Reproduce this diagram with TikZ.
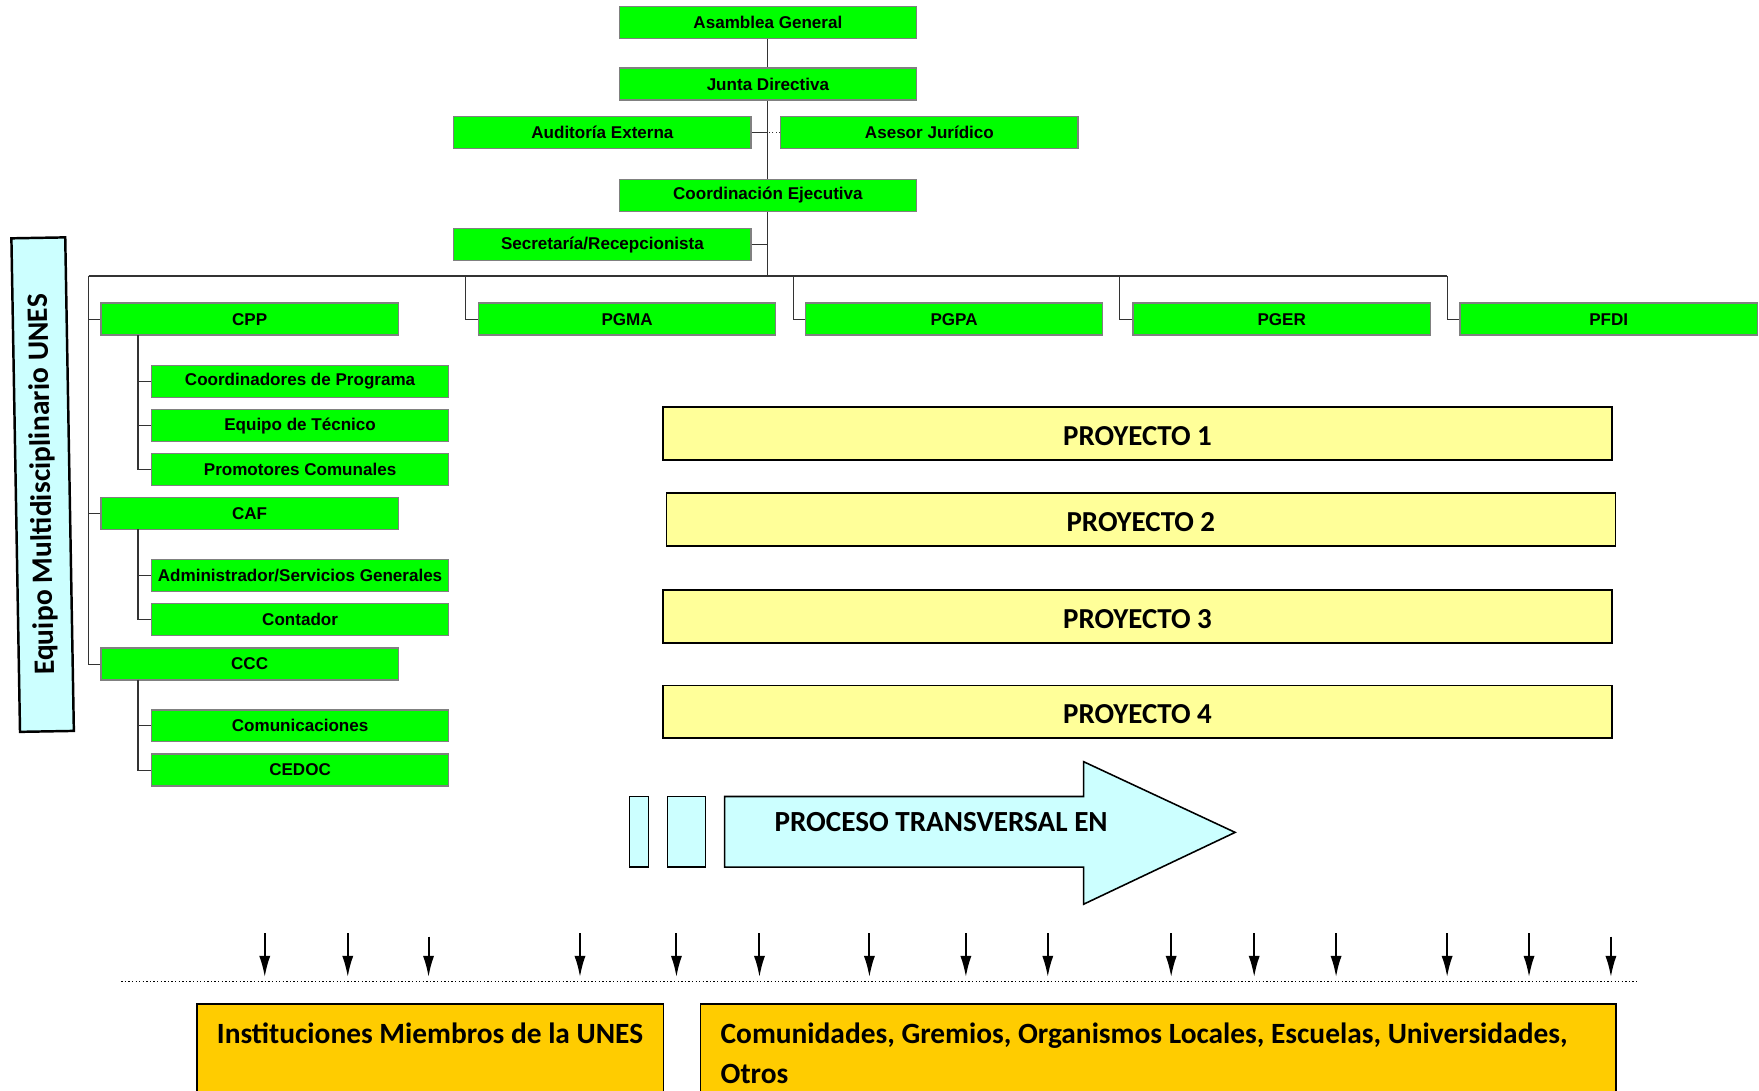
\documentclass[tikz,border=0pt]{standalone}
\usepackage{fontspec}
\setmainfont{Liberation Sans}
\newfontfamily\calfont{Carlito}
\usetikzlibrary{arrows.meta}
\definecolor{grn}{HTML}{00FF00}
\definecolor{cy}{HTML}{CCFFFF}
\definecolor{yl}{HTML}{FFFF99}
\definecolor{org}{HTML}{FFCC00}
\definecolor{conn}{HTML}{333333}
\begin{document}
\begin{tikzpicture}[x=0.5pt,y=-0.5pt,
  gbox/.style={draw=gray, fill=grn, line width=0.6pt, minimum width=132.5pt, minimum height=14.25pt, inner sep=0pt, font=\bfseries\fontsize{7.6}{8}\selectfont},
  ybox/.style={draw=black, fill=yl, line width=0.7pt, minimum width=423pt, minimum height=23.5pt, inner sep=0pt, text height=10.8pt, text depth=0pt, font=\calfont\bfseries\fontsize{12.9}{14}\selectfont},
  obox/.style={draw=black, fill=org, line width=0.6pt, inner sep=0pt, anchor=north west},
  otext/.style={anchor=north west, align=left, inner sep=0pt, font=\calfont\bfseries\fontsize{13.1}{18}\selectfont},
  cline/.style={draw=conn, line width=0.5pt},
  darrow/.style={line width=0.9pt, -{Latex[length=9.5pt,width=5pt]}},
]
\clip (0,0) rectangle (1568,972);
\fill[white] (0,0) rectangle (1568,972);

% --- top of the chart
\node[gbox] (asm) at (684.5,20) {Asamblea General};
\node[gbox] (jd)  at (684.5,75) {Junta Directiva};
\node[gbox] (aud) at (537,118) {Auditoría Externa};
\node[gbox] (ase) at (828.5,118) {Asesor Jurídico};
\node[gbox] (ce)  at (684.5,174) {Coordinación Ejecutiva};
\node[gbox] (sec) at (537,218) {Secretaría/Recepcionista};

% --- second level
\node[gbox] (cpp)  at (222.5,284.5) {CPP};
\node[gbox] (pgma) at (559,284.5) {PGMA};
\node[gbox] (pgpa) at (850.5,284.5) {PGPA};
\node[gbox] (pger) at (1142.5,284.5) {PGER};
\node[gbox] (pfdi) at (1434,284.5) {PFDI};

\node[gbox] (cdp) at (267.5,340) {Coordinadores de Programa};
\node[gbox] (eqt) at (267.5,379.5) {Equipo de Técnico};
\node[gbox] (prc) at (267.5,418.5) {Promotores Comunales};
\node[gbox] (caf) at (222.5,458) {CAF};
\node[gbox] (adm) at (267.5,513) {Administrador/Servicios Generales};
\node[gbox] (con) at (267.5,552.5) {Contador};
\node[gbox] (ccc) at (222.5,592) {CCC};
\node[gbox] (com) at (267.5,647) {Comunicaciones};
\node[gbox] (ced) at (267.5,686.5) {CEDOC};

% --- connectors
\coordinate (trunkb) at (684.5,246);
\coordinate (busL) at (79,246);
\coordinate (busR) at (1290,246);
\coordinate (tpgma) at (415,246);
\coordinate (tpgpa) at (707,246);
\coordinate (tpger) at (998,246);
\coordinate (tpfdi) at (1290,246);
\coordinate (cppd) at (123,299);
\coordinate (cafd) at (123,472);
\coordinate (cccd) at (123,606);

\draw[cline] (asm.south) -- (jd.north);
\draw[cline] (jd.south) -- (ce.north);
\draw[cline] (ce.south) -- (trunkb);
\draw[cline] (aud.east) -- (aud.east -| jd.south);
\draw[cline, densely dotted] (ase.west) -- (ase.west -| jd.south);
\draw[cline] (sec.east) -- (sec.east -| ce.south);
\draw[cline] (busL) -- (busR);
\draw[cline] (busL) |- (cpp.west);
\draw[cline] (busL) |- (caf.west);
\draw[cline] (busL) |- (ccc.west);
\draw[cline] (tpgma) |- (pgma.west);
\draw[cline] (tpgpa) |- (pgpa.west);
\draw[cline] (tpger) |- (pger.west);
\draw[cline] (tpfdi) |- (pfdi.west);
\draw[cline] (cppd) |- (cdp.west);
\draw[cline] (cppd) |- (eqt.west);
\draw[cline] (cppd) |- (prc.west);
\draw[cline] (cafd) |- (adm.west);
\draw[cline] (cafd) |- (con.west);
\draw[cline] (cccd) |- (com.west);
\draw[cline] (cccd) |- (ced.west);

% --- side label
\node[draw=black, fill=cy, line width=1.1pt, rotate=91, minimum width=220pt, minimum height=24pt, inner sep=0pt,
      font=\calfont\bfseries\fontsize{13.2}{14}\selectfont] (equipo) at (38,432) {Equipo Multidisciplinario UNES};

% --- projects
\node[ybox] (p1) at (1014,386.5) {PROYECTO 1};
\node[ybox] (p2) at (1017,463) {PROYECTO 2};
\node[ybox] (p3) at (1014,549.5) {PROYECTO 3};
\node[ybox] (p4) at (1014,634.5) {PROYECTO 4};

% --- transversal arrow
\draw[fill=cy, line width=0.7pt] (561,710) rectangle (578,773);
\draw[fill=cy, line width=0.7pt] (595,710) rectangle (629,773);
\draw[fill=cy, line width=0.7pt] (646,710) -- (966,710) -- (966,679) -- (1101,742) -- (966,806) -- (966,773) -- (646,773) -- cycle;
\node[anchor=west, inner sep=0pt, font=\calfont\bfseries\fontsize{13}{14}\selectfont] (proc) at (690,733) {PROCESO TRANSVERSAL EN};

% --- down arrows
\foreach \i/\x/\y in {1/236/832,2/310/832,3/382/835,4/517/832,5/603/832,6/677/832,7/775/832,8/861/832,9/934/832,10/1044/832,11/1118/832,12/1191/832,13/1290/832,14/1363/832,15/1436/835}{
  \coordinate (a\i) at (\x,\y);
  \coordinate (b\i) at (\x,871);
  \draw[darrow] (a\i) -- (b\i);
}
\coordinate (dl) at (108,875);
\coordinate (dr) at (1460,875);
\draw[line width=0.6pt, densely dotted] (dl) -- (dr);

% --- bottom boxes
\node[obox, minimum width=208pt, minimum height=45pt] (inst) at (175,895) {};
\node[obox, minimum width=408pt, minimum height=45pt] (comu) at (624,895) {};
\draw[line width=1.3pt] (inst.north west) -- (inst.north east);
\draw[line width=1.3pt] (comu.north west) -- (comu.north east);
\node[otext] (instt) at (193,911) {Instituciones Miembros de la UNES};
\node[otext] (comut) at (642,911) {Comunidades, Gremios, Organismos Locales, Escuelas, Universidades,\\Otros};
\end{tikzpicture}
\end{document}
